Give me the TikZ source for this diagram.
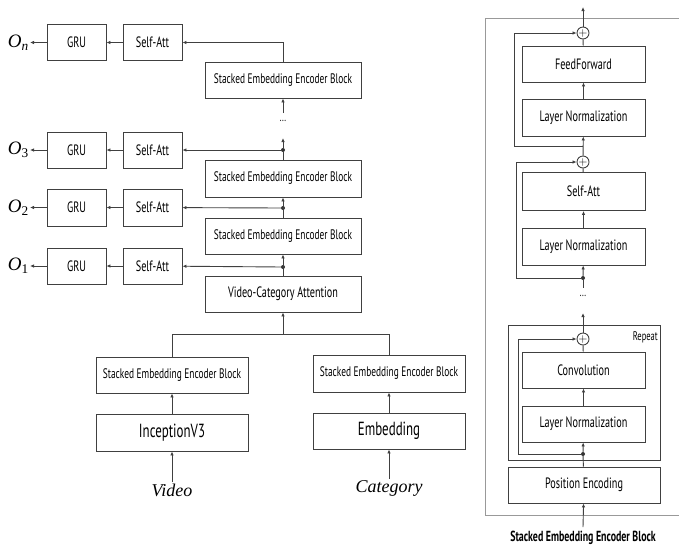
\documentclass[tikz,border=0pt]{standalone}
\usepackage{fontspec}
\usepackage{tikz}
\usetikzlibrary{positioning, arrows.meta}

\newfontfamily\condfont[FakeStretch=0.68]{PT Sans}
\newfontfamily\serifit{Liberation Serif}

\tikzset{
  blk/.style={draw=black!75, line width=0.9pt, inner sep=0pt, minimum height=36pt,
    font=\condfont\fontsize{15}{18}\selectfont},
  smallblk/.style={blk, font=\condfont\fontsize{13.8}{16}\selectfont},
  bigblk/.style={blk, font=\condfont\fontsize{19}{22}\selectfont},
  addop/.style={circle, draw=black!75, line width=0.9pt, minimum size=12pt, inner sep=0pt,
    font=\fontsize{12}{12}\selectfont},
  link/.style={draw=black!75, line width=0.9pt},
  arr/.style={link, -{Latex[length=4pt,width=3.5pt]}},
  jdot/.style={circle, fill=black!80, inner sep=0pt, minimum size=4pt},
  outlbl/.style={font=\serifit\itshape\fontsize{19}{20}\selectfont, anchor=east, inner sep=1pt},
  inlbl/.style={font=\serifit\itshape\fontsize{18}{20}\selectfont, inner sep=1pt},
}

\begin{document}
\begin{tikzpicture}[x=1pt, y=-1pt]
    \useasboundingbox (0,0) rectangle (679,550);

    % Left stack - outputs O_n ... O_1
    \node[blk, minimum width=59pt] (gruN) at (76.5,42.5) {GRU};
    \node[blk, minimum width=59pt] (attN) at (152.5,42.5) {Self-Att};
    \node[outlbl] (outN) at (30,42.5) {O\textsubscript{n}};
    \node[smallblk, minimum width=156pt] (seeN) at (283,80) {Stacked Embedding Encoder Block};
    \node[font=\condfont\fontsize{12}{12}\selectfont] (dotsL) at (283,121) {...};
    \coordinate (dotsLtop) at (283,113);

    \node[blk, minimum width=59pt] (gru3) at (76.5,150) {GRU};
    \node[blk, minimum width=59pt] (att3) at (152.5,150) {Self-Att};
    \node[outlbl] (out3) at (30,150) {O\textsubscript{\upshape 3}};
    \node[smallblk, minimum width=156pt, minimum height=37pt] (see3) at (283,178.5) {Stacked Embedding Encoder Block};
    \node[jdot] (j3) at (283,150) {};
    \coordinate (j3up) at (283,138);

    \node[blk, minimum width=59pt, minimum height=37pt] (gru2) at (76.5,207.5) {GRU};
    \node[blk, minimum width=59pt, minimum height=37pt] (att2) at (152.5,207.5) {Self-Att};
    \node[outlbl] (out2) at (30,207.5) {O\textsubscript{\upshape 2}};
    \node[smallblk, minimum width=156pt] (see2) at (283,236) {Stacked Embedding Encoder Block};
    \node[jdot] (j2) at (283,208) {};

    \node[blk, minimum width=59pt] (gru1) at (76.5,266) {GRU};
    \node[blk, minimum width=59pt] (att1) at (152.5,266) {Self-Att};
    \node[outlbl] (out1) at (30,266) {O\textsubscript{\upshape 1}};
    \node[blk, minimum width=156pt] (vca) at (283,294) {Video-Category Attention};
    \node[jdot] (j1) at (283,267) {};

    % Two input branches
    \coordinate (merge) at (283,334);
    \node[smallblk, minimum width=152pt] (seeV) at (172,375) {Stacked Embedding Encoder Block};
    \node[smallblk, minimum width=152pt, minimum height=37pt] (seeC) at (389,373.5) {Stacked Embedding Encoder Block};
    \node[bigblk, minimum width=152pt, minimum height=37pt] (incep) at (172,432.5) {InceptionV3};
    \node[bigblk, minimum width=152pt] (embed) at (389,431) {Embedding};
    \node[inlbl] (video) at (172,490) {Video};
    \node[inlbl] (category) at (389,488) {Category};

    \draw[arr] (gruN) -- (outN);
    \draw[arr] (attN) -- (gruN);
    \draw[arr] (seeN.north) |- (attN.east);
    \draw[arr] (dotsLtop) -- (seeN);
    \draw[link] (see3) -- (j3);
    \draw[arr] (j3) -- (j3up);
    \draw[arr] (j3) -- (att3);
    \draw[arr] (att3) -- (gru3);
    \draw[arr] (gru3) -- (out3);
    \draw[arr] (see2) -- (see3);
    \draw[arr] (j2) -- (att2);
    \draw[arr] (att2) -- (gru2);
    \draw[arr] (gru2) -- (out2);
    \draw[arr] (vca) -- (see2);
    \draw[arr] (j1) -- (att1);
    \draw[arr] (att1) -- (gru1);
    \draw[arr] (gru1) -- (out1);
    \draw[link] (seeV.north) |- (merge) -| (seeC.north);
    \draw[arr] (merge) -- (vca);
    \draw[arr] (incep) -- (seeV);
    \draw[arr] (embed) -- (seeC);
    \draw[arr] (video) -- (incep);
    \draw[arr] (category) -- (embed);

    % Right panel - inside one encoder block
    \draw[draw=black!40, line width=0.9pt] (679,18) -- (485,18) -- (485,515) -- (679,515);
    \draw[link] (508,325) rectangle (660,460);
    \node[font=\condfont\fontsize{12.5}{14}\selectfont, anchor=base east, inner sep=0pt] (rep) at (658,340) {Repeat};

    \node[addop] (add1) at (583,33) {$+$};
    \node[blk, minimum width=123pt] (ff) at (583.5,64) {FeedForward};
    \node[blk, minimum width=123pt, minimum height=37pt] (ln1) at (583.5,117.5) {Layer Normalization};
    \node[addop] (add2) at (583,162) {$+$};
    \node[blk, minimum width=123pt, minimum height=38pt] (sa) at (583.5,191.5) {Self-Att};
    \node[blk, minimum width=123pt, minimum height=37pt] (ln2) at (583.5,246.5) {Layer Normalization};
    \node[jdot] (j2r) at (583,278) {};
    \node[font=\condfont\fontsize{12}{12}\selectfont] (dotsR) at (583,296) {...};
    \node[addop] (add3) at (583,339) {$+$};
    \node[blk, minimum width=123pt] (conv) at (583.5,370) {Convolution};
    \node[blk, minimum width=123pt] (ln3) at (583.5,424) {Layer Normalization};
    \node[jdot] (j3r) at (583,454) {};
    \node[blk, minimum width=152pt] (pe) at (584,485) {Position Encoding};
    \node[font=\condfont\bfseries\fontsize{14.6}{16}\selectfont] (title) at (583,538) {Stacked Embedding Encoder Block};

    \coordinate (outtop) at (583,7);
    \coordinate (s1) at (583,146);
    \coordinate (j2down) at (583,288);
    \coordinate (add3up) at (583,313);
    \coordinate (inbot) at (583,527);

    \draw[arr] (add1) -- (outtop);
    \draw[link] (ff) -- (add1);
    \draw[arr] (ln1) -- (ff);
    \draw[arr] (add2) -- (ln1);
    \draw[arr] (s1) -- ++(-69,0) |- (add1.west);
    \draw[link] (sa) -- (add2);
    \draw[arr] (ln2) -- (sa);
    \draw[arr] (j2r) -- (ln2);
    \draw[arr] (j2r) -- ++(-67,0) |- (add2.west);
    \draw[link] (j2r) -- (j2down);
    \draw[arr] (add3) -- (add3up);
    \draw[link] (conv) -- (add3);
    \draw[arr] (ln3) -- (conv);
    \draw[arr] (j3r) -- (ln3);
    \draw[arr] (j3r) -- ++(-65,0) |- (add3.west);
    \draw[link] (pe) -- (j3r);
    \draw[arr] (inbot) -- (pe);
\end{tikzpicture}
\end{document}
